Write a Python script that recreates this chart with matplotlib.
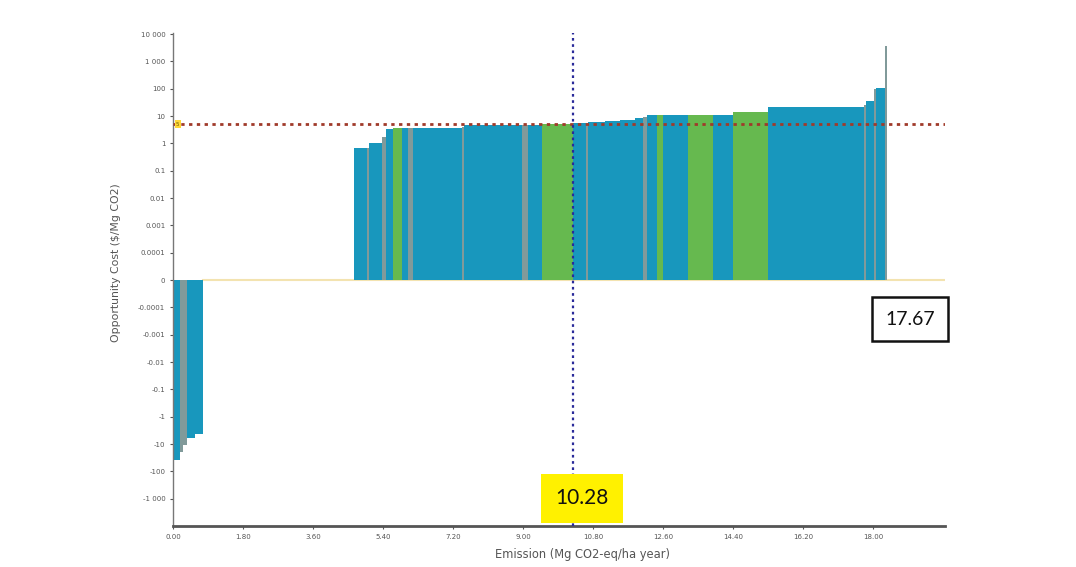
import numpy as np
import matplotlib
matplotlib.use("Agg")
import matplotlib.pyplot as plt

# Abatement cost curve: segment edges along cumulative emission (Mg CO2-eq/ha year)
pos_edges = [4.65, 4.99, 5.04, 5.37, 5.48, 5.66, 5.89, 6.04, 6.17, 7.43, 7.48,
             8.97, 9.13, 9.49, 10.28, 10.62, 10.67, 11.11, 11.49, 11.88, 12.08,
             12.19, 12.44, 12.60, 13.24, 13.88, 14.40, 15.30, 17.76, 17.82,
             18.02, 18.07, 18.30, 18.36]
pos_costs = [0.71, 0.71, 1.0, 1.7, 3.5, 3.8, 3.8, 3.8, 3.8, 4.1, 4.6,
             4.6, 4.6, 5.0, 5.4, 5.8, 6.3, 6.8, 7.4, 8.3, 9.4,
             11.0, 11.0, 11.0, 11.0, 11.0, 14.5, 22.0, 26.0, 36.0,
             95.0, 110.0, 3800.0]
pos_kind = ["T", "S", "T", "S", "T", "G", "T", "S", "T", "S", "T",
            "S", "T", "G", "T", "S", "T", "T", "T", "T", "S",
            "T", "G", "T", "G", "T", "G", "T", "S", "T",
            "S", "T", "S"]

neg_edges = [0.00, 0.18, 0.26, 0.36, 0.57, 0.77]
neg_costs = [-40.0, -19.0, -10.5, -5.8, -4.2]
neg_kind = ["T", "S", "S", "T", "T"]

x_ticks = [0.00, 1.80, 3.60, 5.40, 7.20, 9.00, 10.80, 12.60, 14.40, 16.20, 18.00]
y_ticks = [-1000, -100, -10, -1, -0.1, -0.01, -0.001, -0.0001, 0,
           0.0001, 0.001, 0.01, 0.1, 1, 10, 100, 1000, 10000]
y_tick_labels = ["-1 000", "-100", "-10", "-1", "-0.1", "-0.01", "-0.001",
                 "-0.0001", "0", "0.0001", "0.001", "0.01", "0.1", "1", "10",
                 "100", "1 000", "10 000"]

threshold_price = 5.0
median_emission = 10.28
total_label = "17.67"

palette = {"T": "#1897BD", "G": "#66B94F", "S": "#819A9A"}

fig = plt.figure(figsize=(10.76, 5.67), dpi=100)
ax = fig.add_axes([0.1608, 0.0723, 0.7175, 0.8695])

ax.set_yscale("symlog", linthresh=1e-4, linscale=0.9)


def draw_segments(edges, costs, kinds):
    edges = np.asarray(edges)
    ax.bar(edges[:-1], costs, width=np.diff(edges), align="edge",
           color=[palette[k] for k in kinds], edgecolor="none",
           linewidth=0, zorder=2)


draw_segments(neg_edges, neg_costs, neg_kind)
draw_segments(pos_edges, pos_costs, pos_kind)

ax.set_xlim(0, 19.85)
ax.set_ylim(-10000, 11000)

# zero baseline beyond the negative-cost options
ax.plot([neg_edges[-1], 19.85], [0, 0], color="#F3E3B0", lw=1.5, zorder=1)

# carbon price threshold and median emission markers
ax.axhline(threshold_price, color="#A03A2A", lw=2, ls=(0, (1.2, 1.6)), zorder=3)
ax.axvline(median_emission, color="#2A2A9A", lw=1.6, ls=(0, (1.2, 1.6)), zorder=3)

ax.text(0.12, threshold_price, "5", fontsize=4, color="#6a5a00",
        ha="center", va="center", zorder=4,
        bbox=dict(boxstyle="square,pad=0.25", fc="#FFD83A", ec="none"))

ax.set_xticks(x_ticks)
ax.set_xticklabels([f"{v:.2f}" for v in x_ticks])
ax.set_yticks(y_ticks)
ax.set_yticklabels(y_tick_labels)
ax.yaxis.set_minor_locator(matplotlib.ticker.NullLocator())
ax.tick_params(axis="both", labelsize=5, colors="#555555", length=2.5,
               width=0.8, pad=3)

for side in ("top", "right"):
    ax.spines[side].set_visible(False)
ax.spines["left"].set_color("#777777")
ax.spines["left"].set_linewidth(1.0)
ax.spines["bottom"].set_color("#555555")
ax.spines["bottom"].set_linewidth(2.0)

ax.set_xlabel("Emission (Mg CO2-eq/ha year)", fontsize=8.3, color="#555555")
ax.xaxis.set_label_coords(0.53, -0.045)
ax.set_ylabel("Opportunity Cost ($/Mg CO2)", fontsize=7.8, color="#555555")
ax.yaxis.set_label_coords(-0.068, 0.535)

# value boxes
fig.text(0.541, 0.121, f"{median_emission:.2f}", fontsize=15, color="#111111",
         ha="center", va="center", family="Lato",
         bbox=dict(boxstyle="square,pad=0.7", fc="#FFF100", ec="none"))
fig.text(0.8457, 0.437, total_label, fontsize=14, color="#111111",
         ha="center", va="center", family="Lato",
         bbox=dict(boxstyle="square,pad=0.7", fc="white", ec="#111111", lw=1.8))

fig.savefig("out.png", dpi=100)
